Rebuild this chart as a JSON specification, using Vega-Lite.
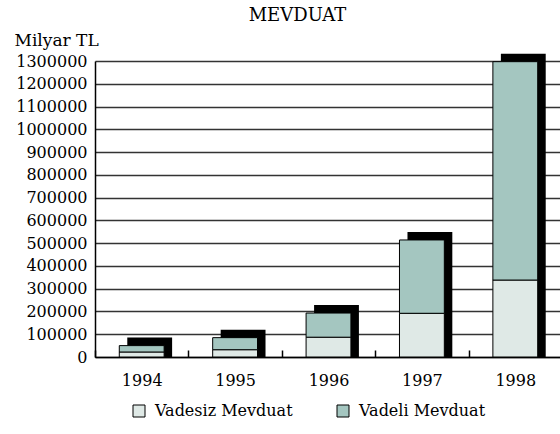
{
  "$schema": "https://vega.github.io/schema/vega-lite/v6.json",
  "width": 467,
  "height": 296,
  "autosize": {"type": "none"},
  "padding": {"left": 95, "top": 61, "right": 0, "bottom": 77},
  "background": "white",
  "title": {
    "text": "MEVDUAT",
    "font": "DejaVu Serif",
    "fontSize": 18,
    "fontWeight": "normal",
    "color": "black",
    "anchor": "middle",
    "dx": -31,
    "offset": 6
  },
  "config": {
    "view": {"stroke": null},
    "font": "DejaVu Serif",
    "axisY": {
      "titleAngle": 0,
      "titleX": -81,
      "titleY": -16,
      "titleAlign": "left",
      "titleBaseline": "alphabetic",
      "titleFont": "DejaVu Serif",
      "titleFontSize": 17,
      "titleFontWeight": "normal",
      "titleColor": "black",
      "labelFont": "DejaVu Serif",
      "labelFontSize": 16,
      "labelColor": "black",
      "labelPadding": 8,
      "labelOverlap": false,
      "labelFlush": false,
      "ticks": false,
      "domainColor": "black",
      "domainWidth": 1.5,
      "grid": true,
      "gridColor": "#333333",
      "gridWidth": 1.3,
      "gridOpacity": 1
    }
  },
  "data": {
    "values": [
      {"year": "1994", "type": "Vadesiz Mevduat", "value": 22000},
      {"year": "1994", "type": "Vadeli Mevduat", "value": 28000},
      {"year": "1995", "type": "Vadesiz Mevduat", "value": 32000},
      {"year": "1995", "type": "Vadeli Mevduat", "value": 53000},
      {"year": "1996", "type": "Vadesiz Mevduat", "value": 87000},
      {"year": "1996", "type": "Vadeli Mevduat", "value": 106000},
      {"year": "1997", "type": "Vadesiz Mevduat", "value": 192000},
      {"year": "1997", "type": "Vadeli Mevduat", "value": 322000},
      {"year": "1998", "type": "Vadesiz Mevduat", "value": 338000},
      {"year": "1998", "type": "Vadeli Mevduat", "value": 959000}
    ]
  },
  "encoding": {
    "x": {
      "field": "year",
      "type": "ordinal",
      "scale": {"paddingInner": 0, "paddingOuter": 0},
      "axis": {
        "title": null,
        "labelAngle": 0,
        "labelFont": "DejaVu Serif",
        "labelFontSize": 16,
        "labelColor": "black",
        "labelPadding": 22,
        "domainColor": "black",
        "domainWidth": 1.5,
        "tickColor": "black",
        "tickWidth": 1.5,
        "tickSize": -7,
        "tickBand": "extent",
        "grid": false
      }
    }
  },
  "layer": [
    {
      "mark": {"type": "bar", "color": "black", "xOffset": 8, "yOffset": -8, "y2Offset": 0, "width": {"band": 0.48}},
      "encoding": {
        "y": {
          "aggregate": "sum",
          "field": "value",
          "type": "quantitative",
          "scale": {"domain": [0, 1300000], "nice": false},
          "axis": {
            "title": "Milyar TL",
            "values": [0, 100000, 200000, 300000, 400000, 500000, 600000, 700000, 800000, 900000, 1000000, 1100000, 1200000, 1300000],
            "format": "d"
          }
        },
        "y2": {"datum": 0}
      }
    },
    {
      "mark": {"type": "bar", "stroke": "black", "strokeWidth": 1, "width": {"band": 0.48}},
      "encoding": {
        "y": {
          "field": "value",
          "type": "quantitative",
          "stack": "zero",
          "axis": {
            "title": "Milyar TL",
            "values": [0, 100000, 200000, 300000, 400000, 500000, 600000, 700000, 800000, 900000, 1000000, 1100000, 1200000, 1300000],
            "format": "d"
          }
        },
        "order": {"field": "type", "sort": "descending"},
        "color": {
          "field": "type",
          "type": "nominal",
          "scale": {
            "domain": ["Vadesiz Mevduat", "Vadeli Mevduat"],
            "range": ["#dfe9e6", "#a4c6c0"]
          },
          "legend": {
            "title": null,
            "orient": "none",
            "legendX": 36,
            "legendY": 342,
            "direction": "horizontal",
            "columns": 2,
            "columnPadding": 42,
            "symbolType": "square",
            "symbolSize": 144,
            "symbolStrokeColor": "black",
            "symbolStrokeWidth": 1,
            "symbolOpacity": 1,
            "labelFont": "DejaVu Serif",
            "labelFontSize": 16,
            "labelColor": "black",
            "labelOffset": 8
          }
        }
      }
    }
  ]
}
